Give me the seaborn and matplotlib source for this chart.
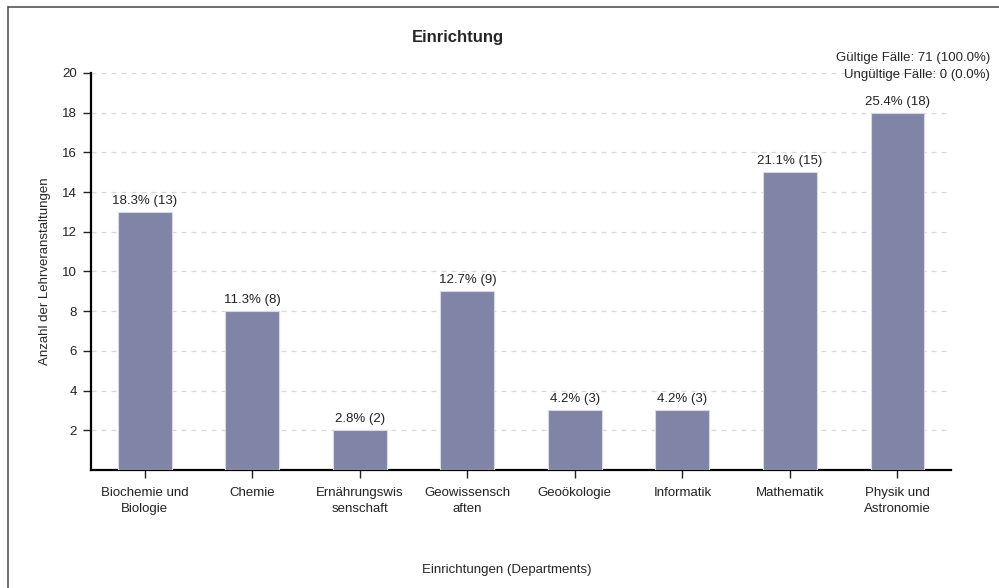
import seaborn as sns
import pandas as pd
from matplotlib import pyplot as plt
from matplotlib.lines import Line2D

departments = ['Biochemie und\nBiologie', 'Chemie', 'Ernährungswis\nsenschaft', 'Geowissensch\naften',
               'Geoökologie', 'Informatik', 'Mathematik', 'Physik und\nAstronomie']
counts = [13, 8, 2, 9, 3, 3, 15, 18]
yticks = [2, 4, 6, 8, 10, 12, 14, 16, 18, 20]

df = pd.DataFrame({'dept': departments, 'n': counts})
total = sum(counts)

sns.set_style('white')
plt.rcParams['font.family'] = ['Liberation Sans', 'DejaVu Sans']

fig = plt.figure(figsize=(9.99, 5.88), dpi=100)
ax = fig.add_axes([0.0911, 0.2007, 0.861, 0.6753])

sns.barplot(data=df, x='dept', y='n', color='#8084a6', saturation=1, width=0.5,
            edgecolor='#d8d9e6', linewidth=0.8, ax=ax, zorder=3)

for i, c in enumerate(counts):
    ax.text(i, c + 0.25, f'{c / total * 100:.1f}% ({c})', ha='center', va='bottom',
            fontsize=9.5, color='#222222')

ax.set_ylim(0, 20)
ax.set_xlim(-0.5, 7.5)
ax.set_yticks(yticks)
ax.yaxis.grid(True, linestyle=(0, (4, 4)), color='#d9d9d9', linewidth=0.9, zorder=0)
ax.tick_params(axis='both', direction='out', length=6, width=1, colors='#222222',
               labelsize=9.5, left=True, bottom=True, pad=4)
ax.tick_params(axis='x', pad=6)
for lbl in ax.get_xticklabels():
    lbl.set_linespacing(1.45)
for s in ['top', 'right']:
    ax.spines[s].set_visible(False)
for s in ['left', 'bottom']:
    ax.spines[s].set_linewidth(1.6)
    ax.spines[s].set_color('black')

ax.set_xlabel('')
ax.set_ylabel('Anzahl der Lehrveranstaltungen', fontsize=9.5)
ax.yaxis.set_label_coords(-0.047, 0.5)

fig.text(0.507, 0.030, 'Einrichtungen (Departments)', ha='center', va='center', fontsize=9.5)
fig.text(0.458, 0.937, 'Einrichtung', ha='center', va='center', fontsize=12, fontweight='bold')
fig.text(0.991, 0.901, f'Gültige Fälle: {total} (100.0%)', ha='right', va='center', fontsize=9.5)
fig.text(0.991, 0.872, 'Ungültige Fälle: 0 (0.0%)', ha='right', va='center', fontsize=9.5)

fig.add_artist(Line2D([0.008, 0.008], [0, 0.988], transform=fig.transFigure, color='#555555', linewidth=1.2))
fig.add_artist(Line2D([0.008, 1.0], [0.988, 0.988], transform=fig.transFigure, color='#555555', linewidth=1.2))

fig.savefig('out.png', dpi=100)
